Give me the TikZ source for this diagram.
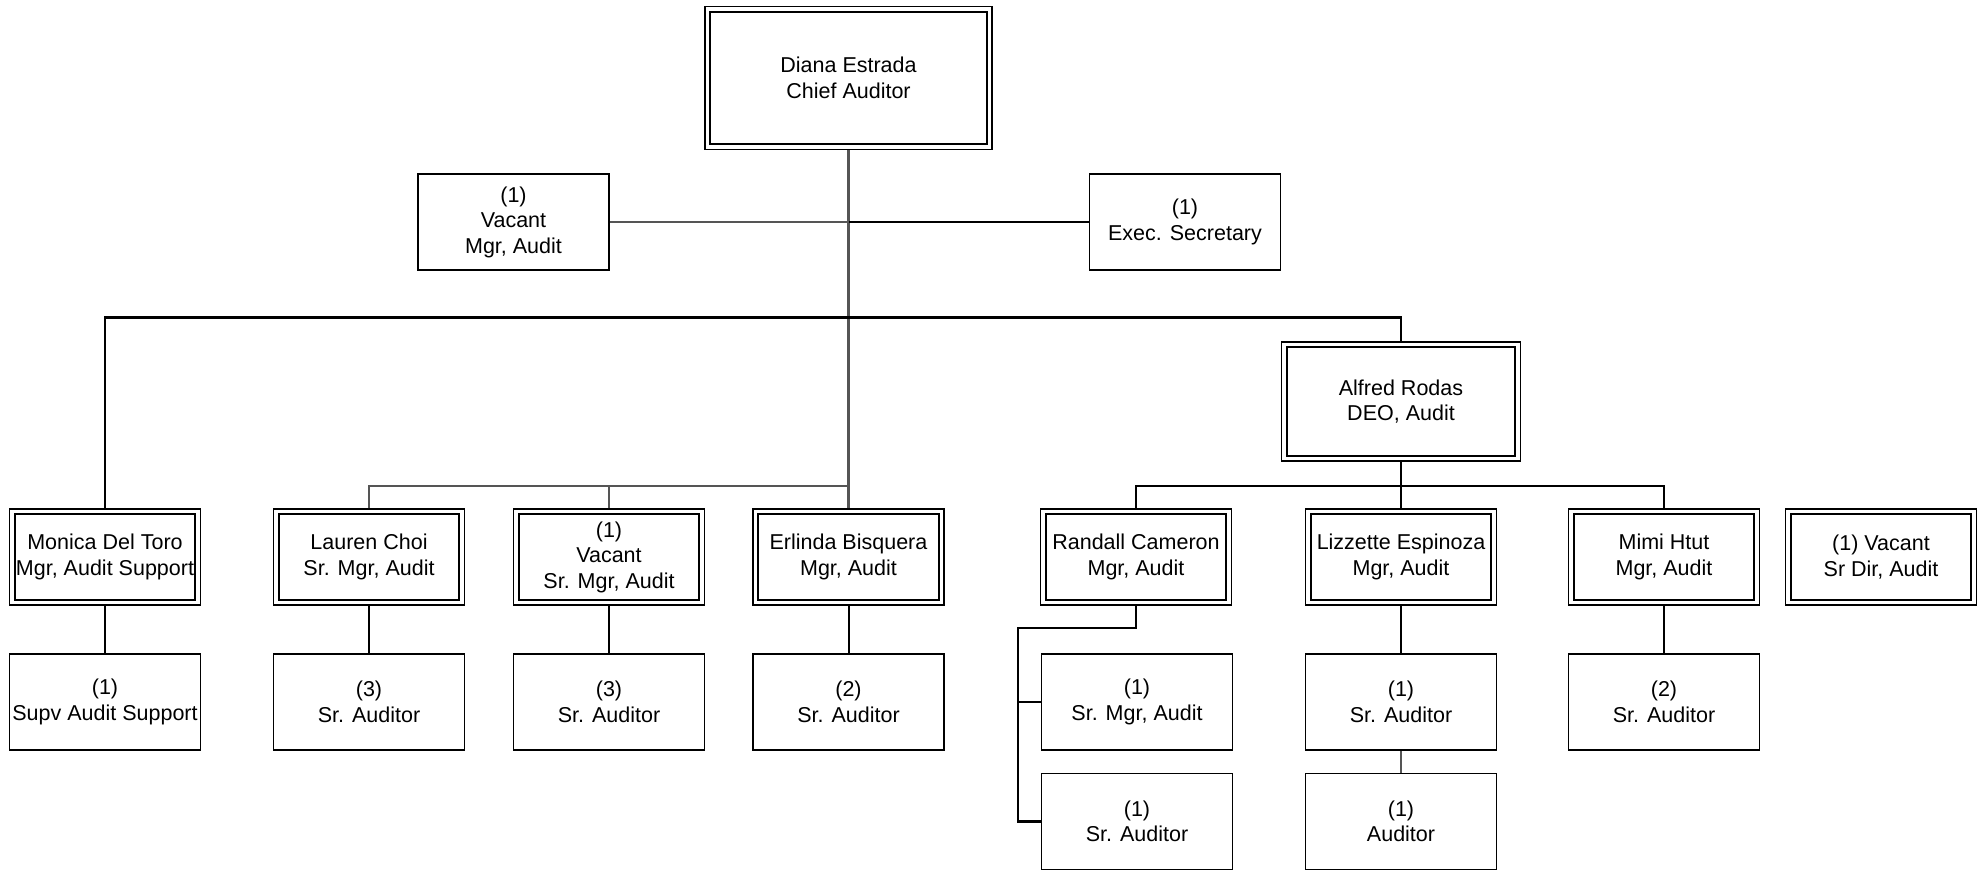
\documentclass[tikz,border=0pt]{standalone}
\usepackage{fontspec}
\setmainfont{Liberation Sans}
\usetikzlibrary{calc}
\definecolor{lg}{RGB}{85,85,85}
\begin{document}
\begin{tikzpicture}[x=1pt,y=-1pt,
  box/.style={draw, line width=1.5pt, minimum width=191pt, minimum height=96pt, align=center, inner sep=0pt, font=\fontsize{21.5}{25.5}\selectfont},
  dbox/.style={box, line width=1.3pt,
    path picture={\draw[line width=2.2pt] ($(path picture bounding box.north west)+(5.2pt,-5.2pt)$) rectangle ($(path picture bounding box.south east)+(-5.2pt,5.2pt)$);}},
  bline/.style={draw=black, line width=2.5pt},
  cline/.style={draw=black, line width=2pt},
  gline/.style={draw=lg, line width=2.2pt},
  gthin/.style={draw=lg, line width=1.6pt}]
\useasboundingbox (0,0) rectangle (1986,871);
% top
\node[dbox, minimum width=287pt, minimum height=143pt] (chief) at (848.5,78) {Diana Estrada\\Chief Auditor};
\node[box] (vmgr) at (513.5,222) {(1)\\Vacant\\Mgr, Audit};
\node[box] (exec) at (1185,222) {(1)\\Exec. Secretary};
\node[dbox, minimum width=239pt, minimum height=119pt] (alfred) at (1401,401.5) {Alfred Rodas\\DEO, Audit};
% row 2
\node[dbox] (monica) at (105,557) {Monica Del Toro\\Mgr, Audit Support};
\node[dbox] (lauren) at (369,557) {Lauren Choi\\Sr. Mgr, Audit};
\node[dbox] (vsrmgr) at (609,557) {(1)\\Vacant\\Sr. Mgr, Audit};
\node[dbox] (erlinda) at (848.5,557) {Erlinda Bisquera\\Mgr, Audit};
\node[dbox] (randall) at (1136,557) {Randall Cameron\\Mgr, Audit};
\node[dbox] (lizzette) at (1401,557) {Lizzette Espinoza\\Mgr, Audit};
\node[dbox] (mimi) at (1664,557) {Mimi Htut\\Mgr, Audit};
\node[dbox] (vsrdir) at (1881,557) {(1) Vacant\\Sr Dir, Audit};
% row 3
\node[box] (mc1) at (105,702) {(1)\\Supv Audit Support};
\node[box] (lc) at (369,702) {(3)\\Sr. Auditor};
\node[box] (vc) at (609,702) {(3)\\Sr. Auditor};
\node[box] (ec) at (848.5,702) {(2)\\Sr. Auditor};
\node[box] (rc1) at (1137,702) {(1)\\Sr. Mgr, Audit};
\node[box] (zc1) at (1401,702) {(1)\\Sr. Auditor};
\node[box] (hc) at (1664,702) {(2)\\Sr. Auditor};
% row 4
\node[box] (rc2) at (1137,821.5) {(1)\\Sr. Auditor};
\node[box] (zc2) at (1401,821.5) {(1)\\Auditor};
% junctions
\coordinate (j2) at (848.5,317.5);
\coordinate (j3) at (848.5,486);
\coordinate (j4) at (1401,486);
\coordinate (r1) at (1018,628);
% connectors
\draw[gline] (chief.south) -- (erlinda.north);
\draw[gline] (vmgr.east) -- (vmgr.east -| chief.south);
\draw[bline] (exec.west) -- (exec.west -| chief.south);
\draw[bline] (monica.north) -- (monica.north |- j2) -- (alfred.north |- j2) -- (alfred.north);
\draw[gline] (lauren.north) -- (lauren.north |- j3) -- (j3);
\draw[gline] (vsrmgr.north) -- (vsrmgr.north |- j3);
\draw[bline] (alfred.south) -- (lizzette.north);
\draw[bline] (randall.north) -- (randall.north |- j4) -- (mimi.north |- j4) -- (mimi.north);
\draw[cline] (monica.south) -- (mc1.north);
\draw[cline] (lauren.south) -- (lc.north);
\draw[cline] (vsrmgr.south) -- (vc.north);
\draw[cline] (erlinda.south) -- (ec.north);
\draw[cline] (lizzette.south) -- (zc1.north);
\draw[cline] (mimi.south) -- (hc.north);
\draw[gthin] (zc1.south) -- (zc2.north);
\draw[bline] (randall.south) -- (randall.south |- r1) -- (r1) -- (r1 |- rc2.west) -- (rc2.west);
\draw[bline] (r1 |- rc1.west) -- (rc1.west);
\end{tikzpicture}
\end{document}
